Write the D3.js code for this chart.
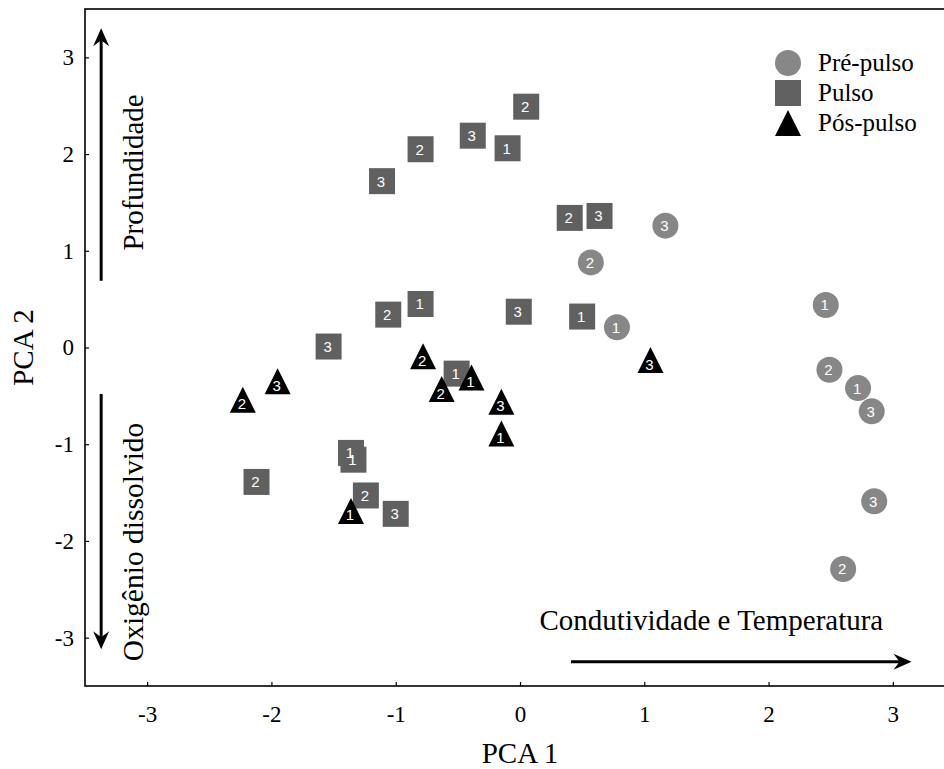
<!DOCTYPE html>
<html>
<head>
<meta charset="utf-8">
<script src="https://cdn.jsdelivr.net/npm/d3@7.9.0/dist/d3.min.js"></script>
<style>
  body { margin: 0; background: #fff; }
  svg { display: block; }
  .serif { font-family: "Liberation Serif", "Times New Roman", serif; fill: #000; }
  .lab { font-family: "Liberation Sans", Arial, sans-serif; fill: #fff; font-size: 15px; }
</style>
</head>
<body>
<div id="chart"></div>
<script>
// series names (legend)
const groups = ["Pré-pulso", "Pulso", "Pós-pulso"];

// Pré-pulso
const preX = [1.17, 0.57, 2.46, 0.78, 2.49, 2.72, 2.83, 2.85, 2.60];
const preY = [1.26, 0.88, 0.44, 0.21, -0.23, -0.42, -0.66, -1.59, -2.29];
const preLab = ["3", "2", "1", "1", "2", "1", "3", "3", "2"];

// Pulso
const pulX = [0.05, -0.38, -0.10, -0.80, -1.11, 0.40, 0.64, -1.06, -0.80, -0.01, 0.50, -1.54, -0.51, -1.36, -1.34, -2.12, -1.24, -1.00];
const pulY = [2.49, 2.19, 2.06, 2.05, 1.72, 1.34, 1.36, 0.34, 0.45, 0.37, 0.32, 0.01, -0.27, -1.09, -1.16, -1.39, -1.53, -1.72];
const pulLab = ["2", "3", "1", "2", "3", "2", "3", "2", "1", "3", "1", "3", "1", "1", "1", "2", "2", "3"];

// Pós-pulso
const posX = [-0.78, -0.39, -0.63, 1.05, -1.95, -2.23, -0.15, -0.15, -1.36];
const posY = [-0.09, -0.31, -0.43, -0.13, -0.35, -0.54, -0.56, -0.89, -1.69];
const posLab = ["2", "1", "2", "3", "3", "2", "3", "1", "1"];

const xTicks = [-3, -2, -1, 0, 1, 2, 3];
const yTicks = [-3, -2, -1, 0, 1, 2, 3];

const W = 944, H = 769;
const margin = {top: 9, left: 85};
const width = 870, height = 677;

const svg = d3.select("#chart").append("svg")
    .attr("width", W)
    .attr("height", H);

const g = svg.append("g")
    .attr("transform", `translate(${margin.left},${margin.top})`);

const x = d3.scaleLinear().domain([-3.5, 3.5]).range([0, width]);
const y = d3.scaleLinear().domain([-3.5, 3.5]).range([height, 0]);

// axes, ticks pointing inwards
const xAxis = g.append("g")
    .attr("transform", `translate(0,${height})`)
    .call(d3.axisBottom(x).tickValues(xTicks).tickFormat(d => String(d)).tickSize(-4).tickPadding(20));
const yAxis = g.append("g")
    .call(d3.axisLeft(y).tickValues(yTicks).tickFormat(d => String(d)).tickSize(-4).tickPadding(11));

[xAxis, yAxis].forEach(a => {
    a.select(".domain").remove();
    a.selectAll("line").attr("stroke", "#000").attr("stroke-width", 1.2);
    a.selectAll("text")
        .attr("class", "serif")
        .style("font-size", "23px");
});

// frame (right side falls outside the picture)
g.append("rect")
    .attr("width", width)
    .attr("height", height)
    .attr("fill", "none")
    .attr("stroke", "#000")
    .attr("stroke-width", 1.6);

// axis titles
svg.append("text")
    .attr("class", "serif")
    .attr("x", margin.left + x(0))
    .attr("y", 763)
    .attr("text-anchor", "middle")
    .style("font-size", "29px")
    .text("PCA 1");

svg.append("text")
    .attr("class", "serif")
    .attr("transform", `translate(33,${margin.top + y(0)}) rotate(-90)`)
    .attr("text-anchor", "middle")
    .style("font-size", "29px")
    .text("PCA 2");

// direction arrows
function arrow(x1, y1, x2, y2) {
    const px1 = x(x1), py1 = y(y1), px2 = x(x2), py2 = y(y2);
    const ang = Math.atan2(py2 - py1, px2 - px1);
    g.append("line")
        .attr("x1", px1).attr("y1", py1)
        .attr("x2", px2 - 10 * Math.cos(ang))
        .attr("y2", py2 - 10 * Math.sin(ang))
        .attr("stroke", "#000")
        .attr("stroke-width", 3);
    g.append("path")
        .attr("d", "M0,0L-18,-8L-12,0L-18,8Z")
        .attr("transform", `translate(${px2},${py2}) rotate(${ang * 180 / Math.PI})`)
        .attr("fill", "#000");
}
arrow(-3.37, 0.69, -3.37, 3.30);
arrow(-3.37, -0.48, -3.37, -3.12);
arrow(0.41, -3.25, 3.15, -3.25);

g.append("text")
    .attr("class", "serif")
    .attr("x", x(1.54))
    .attr("y", y(-2.92))
    .attr("text-anchor", "middle")
    .style("font-size", "29px")
    .text("Condutividade e Temperatura");

g.append("text")
    .attr("class", "serif")
    .attr("transform", `translate(${x(-3.03)},${y(1.81)}) rotate(-90)`)
    .attr("text-anchor", "middle")
    .style("font-size", "29px")
    .text("Profundidade");

g.append("text")
    .attr("class", "serif")
    .attr("transform", `translate(${x(-3.03)},${y(-2.01)}) rotate(-90)`)
    .attr("text-anchor", "middle")
    .style("font-size", "29.5px")
    .text("Oxigênio dissolvido");

// symbols
const colors = ["#878787", "#606060", "#000000"];
const shapes = [
    "M13,0A13,13 0 1,1 -13,0A13,13 0 1,1 13,0Z",
    "M-13,-13H13V13H-13Z",
    "M0,-13L13,13L-13,13Z"
];

const series = [
    {xs: preX, ys: preY, labs: preLab},
    {xs: pulX, ys: pulY, labs: pulLab},
    {xs: posX, ys: posY, labs: posLab}
];

series.forEach((s, i) => {
    const pts = s.xs.map((v, j) => ({x: v, y: s.ys[j], lab: s.labs[j]}));
    const grp = g.append("g");
    grp.selectAll("path")
        .data(pts)
        .join("path")
        .attr("d", shapes[i])
        .attr("transform", p => `translate(${x(p.x)},${y(p.y)})`)
        .attr("fill", colors[i]);
    grp.selectAll("text")
        .data(pts)
        .join("text")
        .attr("class", "lab")
        .attr("x", p => x(p.x) - 1)
        .attr("y", p => y(p.y) + (i === 2 ? 4 : 0))
        .attr("text-anchor", "middle")
        .attr("dominant-baseline", "central")
        .text(p => p.lab);
});

// legend
const legend = svg.append("g").attr("transform", "translate(788,63)");
groups.forEach((name, i) => {
    const row = legend.append("g").attr("transform", `translate(0,${i * 30})`);
    row.append("path").attr("d", shapes[i]).attr("fill", colors[i]);
    row.append("text")
        .attr("class", "serif")
        .attr("x", 30)
        .attr("y", 8)
        .style("font-size", "25px")
        .text(name);
});
</script>
</body>
</html>
